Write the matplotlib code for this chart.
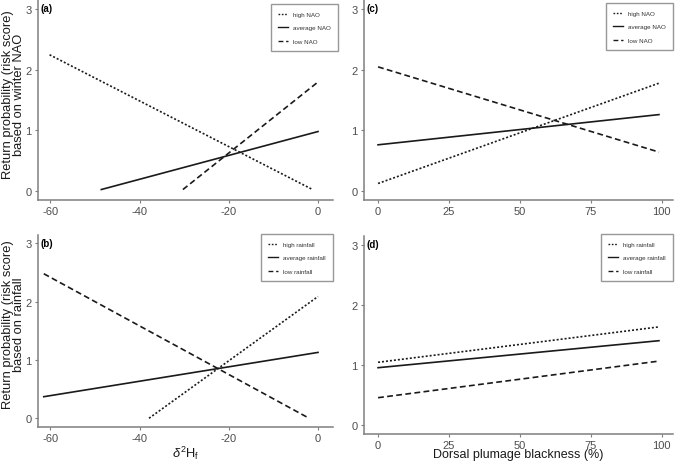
import numpy as np
import matplotlib
matplotlib.use("Agg")
import matplotlib.pyplot as plt

plt.rcParams['font.family'] = ['Liberation Sans', 'DejaVu Sans']
plt.rcParams['mathtext.fontset'] = 'custom'
plt.rcParams['mathtext.rm'] = 'Liberation Sans'
plt.rcParams['mathtext.it'] = 'Liberation Sans:italic'
plt.rcParams['axes.unicode_minus'] = False

# data: end points of the fitted lines
# (a) winter NAO vs d2H
a_high_x = [-60.2, -1.5]
a_high_y = [2.25, 0.03]
a_avg_x = [-48.6, 0.0]
a_avg_y = [0.02, 0.98]
a_low_x = [-30.3, 0.0]
a_low_y = [0.02, 1.80]

# (b) rainfall vs d2H
b_high_x = [-37.9, 0.0]
b_high_y = [0.0, 2.09]
b_avg_x = [-61.5, 0.0]
b_avg_y = [0.37, 1.13]
b_low_x = [-61.5, -2.0]
b_low_y = [2.48, 0.0]

# (c) winter NAO vs plumage blackness
c_high_x = [0, 99]
c_high_y = [0.12, 1.78]
c_avg_x = [0, 99]
c_avg_y = [0.76, 1.26]
c_low_x = [0, 99]
c_low_y = [2.05, 0.64]

# (d) rainfall vs plumage blackness
d_high_x = [0, 99]
d_high_y = [1.04, 1.63]
d_avg_x = [0, 99]
d_avg_y = [0.95, 1.40]
d_low_x = [0, 99]
d_low_y = [0.45, 1.06]

nao_labels = ['high NAO', 'average NAO', 'low NAO']
rain_labels = ['high rainfall', 'average rainfall', 'low rainfall']
d2h_ticks = [-60, -40, -20, 0]
black_ticks = [0, 25, 50, 75, 100]
y_ticks = [0, 1, 2, 3]

line_col = '#1a1a1a'
axis_col = '#7f7f7f'
tick_col = '#4d4d4d'

W, H = 676, 464
fig = plt.figure(figsize=(W / 100, H / 100), dpi=100)


def px_axes(left, top, right, bottom):
    # axes from pixel edges (origin top-left)
    return fig.add_axes([left / W, 1 - bottom / H, (right - left) / W, (bottom - top) / H])


ax_a = px_axes(38, 1.4, 333, 200.8)
ax_c = px_axes(364, 1.4, 673, 200.8)
ax_b = px_axes(38, 235.7, 333, 428)
ax_d = px_axes(364, 236.7, 673, 434.7)


def draw_panel(ax, series, labels, xticks, xlim, tag, leg_corner):
    styles = [(0, (1.2, 1.2)), '-', (0, (3.5, 2))]
    for (xs, ys), lab, ls in zip(series, labels, styles):
        ax.plot(xs, ys, color=line_col, lw=1.2, linestyle=ls, label=lab)
    ax.set_xlim(*xlim)
    ax.set_ylim(-0.15, 3.15)
    ax.set_xticks(xticks)
    ax.set_yticks(y_ticks)
    for s in ['top', 'right']:
        ax.spines[s].set_visible(False)
    for s in ['left', 'bottom']:
        ax.spines[s].set_color(axis_col)
        ax.spines[s].set_linewidth(1.1)
    ax.tick_params(axis='both', colors=axis_col, labelcolor=tick_col,
                   labelsize=8, length=2.5, width=0.8, pad=2)
    ax.text(0.008, 0.985, tag, transform=ax.transAxes, fontsize=7,
            fontweight='bold', va='top', ha='left', color='black')
    lx, ly = leg_corner
    leg = ax.legend(loc='upper right', bbox_to_anchor=(lx / W, 1 - ly / H),
                    bbox_transform=fig.transFigure,
                    fontsize=4.5, frameon=True, fancybox=False,
                    handlelength=1.6, borderpad=1.2, labelspacing=1.3,
                    handletextpad=0.75, borderaxespad=0)
    leg.get_frame().set_edgecolor(axis_col)
    leg.get_frame().set_linewidth(1.0)
    for line in leg.get_lines():
        line.set_linewidth(1.0)
    for t in leg.get_texts():
        t.set_color('#333333')


draw_panel(ax_a, [(a_high_x, a_high_y), (a_avg_x, a_avg_y), (a_low_x, a_low_y)],
           nao_labels, d2h_ticks, (-62.8, 3.36), '(a)', (338, 5))
draw_panel(ax_b, [(b_high_x, b_high_y), (b_avg_x, b_avg_y), (b_low_x, b_low_y)],
           rain_labels, d2h_ticks, (-62.8, 3.36), '(b)', (333, 235))
draw_panel(ax_c, [(c_high_x, c_high_y), (c_avg_x, c_avg_y), (c_low_x, c_low_y)],
           nao_labels, black_ticks, (-4.95, 103.95), '(c)', (673, 4))
draw_panel(ax_d, [(d_high_x, d_high_y), (d_avg_x, d_avg_y), (d_low_x, d_low_y)],
           rain_labels, black_ticks, (-4.95, 103.95), '(d)', (673, 235))

lab_kw = dict(fontsize=9.3, color='#1a1a1a', ha='center', va='center')
fig.text(13.5 / W, 1 - 95 / H, 'Return probability (risk score)\nbased on winter NAO',
         rotation=90, linespacing=0.95, **lab_kw)
fig.text(13.5 / W, 1 - 325 / H, 'Return probability (risk score)\nbased on rainfall',
         rotation=90, linespacing=0.95, **lab_kw)
fig.text(185.5 / W, 1 - 457.5 / H, r'$\mathit{\delta}^2$H$_\mathrm{f}$',
         fontsize=9.3, color='#1a1a1a', ha='center', va='baseline')
fig.text(518.5 / W, 1 - 458.5 / H, 'Dorsal plumage blackness (%)',
         fontsize=9, color='#1a1a1a', ha='center', va='baseline')

fig.savefig('out.png', dpi=100)
